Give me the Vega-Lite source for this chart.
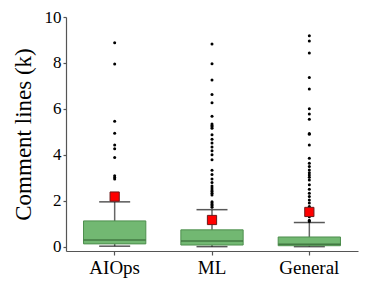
{
  "$schema": "https://vega.github.io/schema/vega-lite/v6.json",
  "autosize": "none",
  "width": 292,
  "height": 234,
  "padding": {"left": 66, "top": 17, "right": 16, "bottom": 35},
  "background": "white",
  "config": {
    "view": {"stroke": null},
    "font": "Liberation Serif",
    "axis": {"grid": false, "domainColor": "#555555", "tickColor": "#555555", "labelColor": "#000000", "titleColor": "#000000", "labelFont": "Liberation Serif", "titleFont": "Liberation Serif", "titleFontWeight": "normal", "domainWidth": 1.2, "tickWidth": 1.2}
  },
  "datasets": {
    "stats": [
      {"group": "AIOps", "lower": 0.02, "q1": 0.12, "median": 0.29, "q3": 1.12, "upper": 1.95, "mean": 2.18},
      {"group": "ML", "lower": 0.0, "q1": 0.07, "median": 0.25, "q3": 0.73, "upper": 1.61, "mean": 1.16},
      {"group": "General", "lower": 0.0, "q1": 0.04, "median": 0.1, "q3": 0.42, "upper": 1.05, "mean": 1.51}
    ],
    "outliers": [
      {"group": "AIOps", "value": 8.88}, {"group": "AIOps", "value": 7.95}, {"group": "AIOps", "value": 5.46}, {"group": "AIOps", "value": 4.94}, {"group": "AIOps", "value": 4.43}, {"group": "AIOps", "value": 4.26}, {"group": "AIOps", "value": 3.88}, {"group": "AIOps", "value": 3.09}, {"group": "AIOps", "value": 3.01}, {"group": "AIOps", "value": 2.94},
      {"group": "ML", "value": 8.82}, {"group": "ML", "value": 7.96}, {"group": "ML", "value": 7.26}, {"group": "ML", "value": 6.62}, {"group": "ML", "value": 6.27}, {"group": "ML", "value": 5.68}, {"group": "ML", "value": 5.34}, {"group": "ML", "value": 5.28}, {"group": "ML", "value": 5.22}, {"group": "ML", "value": 5.16}, {"group": "ML", "value": 4.87}, {"group": "ML", "value": 4.68}, {"group": "ML", "value": 4.51}, {"group": "ML", "value": 4.34}, {"group": "ML", "value": 4.18}, {"group": "ML", "value": 4.0}, {"group": "ML", "value": 3.78}, {"group": "ML", "value": 3.33}, {"group": "ML", "value": 3.14}, {"group": "ML", "value": 2.95}, {"group": "ML", "value": 2.79}, {"group": "ML", "value": 2.64}, {"group": "ML", "value": 2.55}, {"group": "ML", "value": 2.47}, {"group": "ML", "value": 2.4}, {"group": "ML", "value": 2.32}, {"group": "ML", "value": 2.25}, {"group": "ML", "value": 1.96}, {"group": "ML", "value": 1.9}, {"group": "ML", "value": 1.84}, {"group": "ML", "value": 1.78}, {"group": "ML", "value": 1.72},
      {"group": "General", "value": 9.18}, {"group": "General", "value": 8.95}, {"group": "General", "value": 8.43}, {"group": "General", "value": 7.36}, {"group": "General", "value": 6.86}, {"group": "General", "value": 6.01}, {"group": "General", "value": 5.78}, {"group": "General", "value": 5.55}, {"group": "General", "value": 4.93}, {"group": "General", "value": 4.89}, {"group": "General", "value": 4.43}, {"group": "General", "value": 3.85}, {"group": "General", "value": 3.63}, {"group": "General", "value": 3.49}, {"group": "General", "value": 3.34}, {"group": "General", "value": 3.22}, {"group": "General", "value": 3.12}, {"group": "General", "value": 3.02}, {"group": "General", "value": 2.9}, {"group": "General", "value": 2.69}, {"group": "General", "value": 2.5}, {"group": "General", "value": 2.33}, {"group": "General", "value": 2.18}, {"group": "General", "value": 2.03}, {"group": "General", "value": 1.9}, {"group": "General", "value": 1.75}, {"group": "General", "value": 1.6}, {"group": "General", "value": 1.45}, {"group": "General", "value": 1.3}, {"group": "General", "value": 1.15}, {"group": "General", "value": 1.1}
    ]
  },
  "encoding": {
    "x": {"field": "group", "type": "nominal", "sort": ["AIOps", "ML", "General"], "scale": {"paddingInner": 0, "paddingOuter": 0},
      "axis": {"title": null, "labelAngle": 0, "labelFont": "Liberation Serif", "labelFontSize": 19, "tickSize": 4, "labelPadding": 3}}
  },
  "layer": [
    {
      "data": {"name": "stats"},
      "mark": {"type": "rule", "color": "#666666", "strokeWidth": 1.5},
      "encoding": {
        "y": {"field": "lower", "type": "quantitative", "scale": {"domain": [-0.19, 10], "nice": false, "zero": false},
          "axis": {"title": "Comment lines (k)", "titleFont": "Liberation Serif", "titleFontSize": 23, "labelFont": "Liberation Serif", "labelFontSize": 17, "values": [0, 2, 4, 6, 8, 10], "tickSize": 3, "labelPadding": 2, "titlePadding": 9}},
        "y2": {"field": "upper"}
      }
    },
    {
      "data": {"name": "stats"},
      "mark": {"type": "tick", "color": "#111111", "size": 31, "thickness": 1.5},
      "encoding": {"y": {"field": "upper", "type": "quantitative"}}
    },
    {
      "data": {"name": "stats"},
      "mark": {"type": "tick", "color": "#111111", "size": 31, "thickness": 1.5},
      "encoding": {"y": {"field": "lower", "type": "quantitative"}}
    },
    {
      "data": {"name": "stats"},
      "mark": {"type": "bar", "width": {"band": 0.64}, "fill": "#72b872", "stroke": "#4e8f4e", "strokeWidth": 1},
      "encoding": {"y": {"field": "q1", "type": "quantitative"}, "y2": {"field": "q3"}}
    },
    {
      "data": {"name": "stats"},
      "mark": {"type": "tick", "color": "#2f5f2f", "size": 62, "thickness": 1.5},
      "encoding": {"y": {"field": "median", "type": "quantitative"}}
    },
    {
      "data": {"name": "outliers"},
      "mark": {"type": "circle", "color": "#000000", "size": 9, "opacity": 1},
      "encoding": {"y": {"field": "value", "type": "quantitative"}}
    },
    {
      "data": {"name": "stats"},
      "mark": {"type": "square", "fill": "#ff0000", "stroke": "#6b1a1a", "strokeWidth": 1, "size": 85, "opacity": 1},
      "encoding": {"y": {"field": "mean", "type": "quantitative"}}
    }
  ]
}
